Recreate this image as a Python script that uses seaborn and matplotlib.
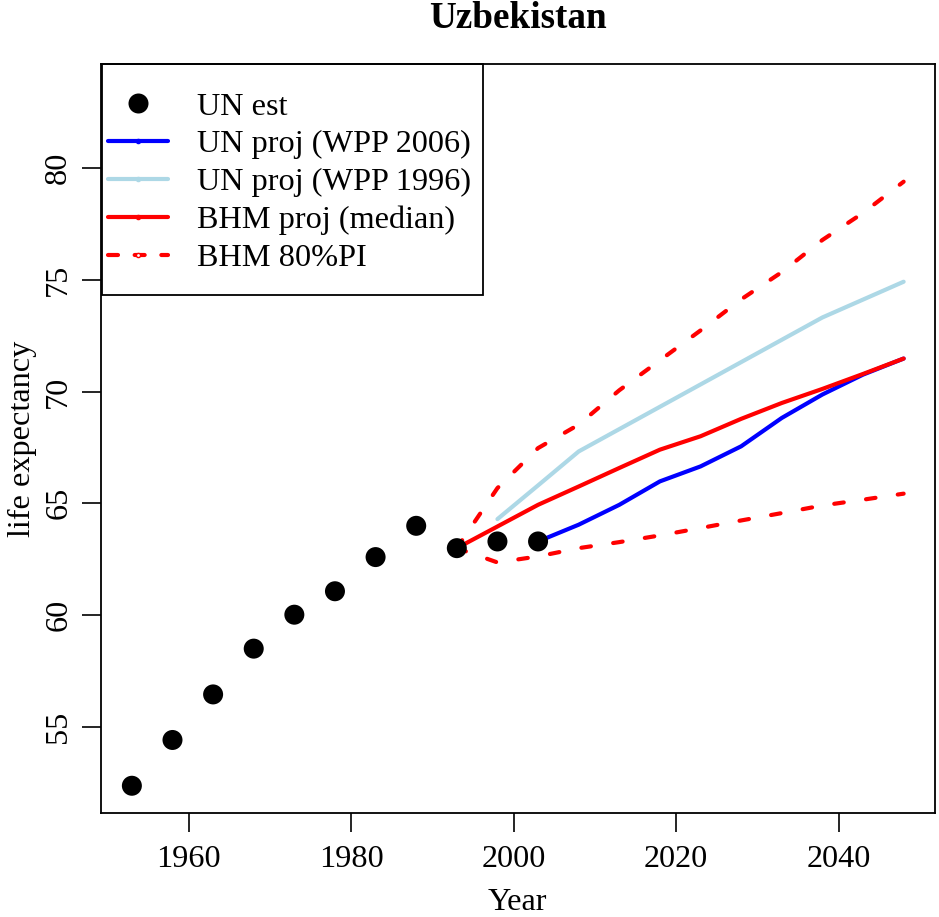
import numpy as np
import pandas as pd
import matplotlib
matplotlib.use("Agg")
import matplotlib.pyplot as plt
from matplotlib.lines import Line2D
from matplotlib.patches import Rectangle
import seaborn as sns

# ---- data -------------------------------------------------------------
est_years = [1953, 1958, 1963, 1968, 1973, 1978, 1983, 1988, 1993, 1998, 2003]
est_values = [52.35, 54.40, 56.44, 58.49, 60.01, 61.06, 62.59, 63.99, 62.99, 63.29, 63.29]

wpp2006_years = [2003, 2008, 2013, 2018, 2023, 2028, 2033, 2038, 2043, 2048]
wpp2006_values = [63.29, 64.04, 64.93, 65.98, 66.65, 67.55, 68.82, 69.87, 70.76, 71.48]

wpp1996_years = [1998, 2003, 2008, 2013, 2018, 2023, 2028, 2033, 2038, 2043, 2048]
wpp1996_values = [64.29, 65.80, 67.32, 68.32, 69.32, 70.32, 71.32, 72.32, 73.32, 74.12, 74.92]

bhm_years = [1993, 1998, 2003, 2008, 2013, 2018, 2023, 2028, 2033, 2038, 2043, 2048]
bhm_median = [62.99, 63.96, 64.93, 65.75, 66.58, 67.40, 68.00, 68.78, 69.49, 70.12, 70.79, 71.48]
bhm_upper = [62.99, 65.68, 67.47, 68.52, 70.06, 71.40, 72.74, 74.13, 75.35, 76.79, 78.00, 79.40]
bhm_lower = [62.99, 62.35, 62.62, 62.99, 63.26, 63.56, 63.89, 64.23, 64.56, 64.90, 65.16, 65.43]

x_ticks = [1960, 1980, 2000, 2020, 2040]
y_ticks = [55, 60, 65, 70, 75, 80]

legend_labels = ["UN est", "UN proj (WPP 2006)", "UN proj (WPP 1996)",
                 "BHM proj (median)", "BHM 80%PI"]

# ---- style ------------------------------------------------------------
sns.set_theme(style="white")
plt.rcParams["font.family"] = ["Liberation Serif", "DejaVu Serif"]
plt.rcParams["mathtext.default"] = "regular"

W, H = 939, 917
fig = plt.figure(figsize=(W / 100, H / 100), dpi=100)
ax_l, ax_r, ax_t, ax_b = 101, 934.5, 64, 813
ax = fig.add_axes([ax_l / W, 1 - ax_b / H, (ax_r - ax_l) / W, (ax_b - ax_t) / H])

FS = 23.2
LW = 3.0
DASH = [2.3, 5.4]

def line(years, values, color, dashed=False):
    df = pd.DataFrame({"year": years, "value": values})
    sns.lineplot(data=df, x="year", y="value", color=color, lw=LW,
                 estimator=None, errorbar=None, ax=ax, zorder=2)
    ln = ax.lines[-1]
    ln.set_solid_capstyle("round")
    ln.set_solid_joinstyle("round")
    if dashed:
        ln.set_dashes(DASH)
        ln.set_dash_capstyle("round")

line(wpp1996_years, wpp1996_values, "#ADD8E6")
line(wpp2006_years, wpp2006_values, "#0000FF")
line(bhm_years, bhm_upper, "#FF0000", dashed=True)
line(bhm_years, bhm_lower, "#FF0000", dashed=True)
line(bhm_years, bhm_median, "#FF0000")

est_df = pd.DataFrame({"year": est_years, "value": est_values})
sns.scatterplot(data=est_df, x="year", y="value", color="black", s=14.4 ** 2,
                edgecolor="none", linewidth=0, ax=ax, zorder=3)

ax.set_xlim(1949.2, 2051.8)
ax.set_ylim(51.13, 84.67)
ax.set_xticks(x_ticks)
ax.set_yticks(y_ticks)
ax.set_xticklabels([str(t) for t in x_ticks], fontsize=FS)
ax.set_yticklabels([str(t) for t in y_ticks], fontsize=FS, rotation=90, va="center")
ax.tick_params(axis="both", direction="out", length=14, width=1.2, color="black",
               labelcolor="black")
ax.tick_params(axis="x", pad=9)
ax.tick_params(axis="y", pad=6)
ax.tick_params(bottom=True, left=True)
for s in ax.spines.values():
    s.set_visible(True)
    s.set_color("black")
    s.set_linewidth(1.3)

ax.set_xlabel("Year", fontsize=FS, color="black", labelpad=10)
ax.set_ylabel("life expectancy", fontsize=FS, color="black", labelpad=5)
ax.set_title("Uzbekistan", fontsize=26.7, fontweight="bold", color="black", pad=26)

# ---- legend -----------------------------------------------------------
def fx(px):
    return (px - ax_l) / (ax_r - ax_l)

def fy(py):
    return (ax_b - py) / (ax_b - ax_t)

handles = [
    Line2D([], [], ls="none", marker="o", markersize=14.4, color="black", markeredgewidth=0),
    Line2D([], [], color="#0000FF", lw=LW, marker="o", markersize=3),
    Line2D([], [], color="#ADD8E6", lw=LW, marker="o", markersize=3),
    Line2D([], [], color="#FF0000", lw=LW, marker="o", markersize=3),
    Line2D([], [], color="#FF0000", lw=LW, ls=(0, (2.4, 4.0)), dash_capstyle="round",
           marker="o", markersize=3, markerfacecolor="white"),
]
leg = ax.legend(handles, legend_labels, loc="upper left",
                bbox_to_anchor=(fx(108), fy(92)), frameon=False, borderpad=0,
                borderaxespad=0, handlelength=1.86, handletextpad=0.9,
                labelspacing=0.26, fontsize=FS, numpoints=1)
for t in leg.get_texts():
    t.set_color("black")
ax.add_patch(Rectangle((fx(102), fy(295)), fx(483) - fx(102), fy(64) - fy(295),
                       transform=ax.transAxes, fill=False, edgecolor="black",
                       lw=1.3, zorder=5, clip_on=False))

fig.savefig("out.png", dpi=100)
